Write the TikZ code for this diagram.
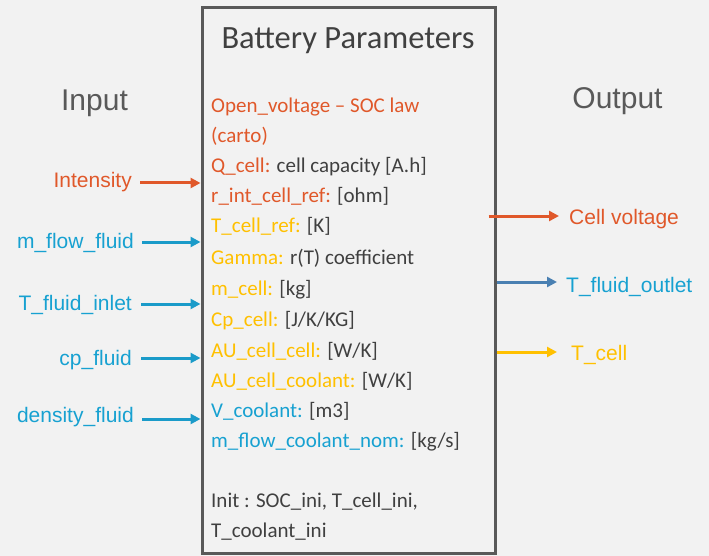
\documentclass[tikz,border=0pt]{standalone}
\usepackage{fontspec}
\setmainfont{Carlito}
\newfontfamily\arialf{Liberation Sans}
\usetikzlibrary{arrows.meta}
\definecolor{bg}{HTML}{F2F2F2}
\definecolor{boxgray}{HTML}{595959}
\definecolor{txtgray}{HTML}{404040}
\definecolor{orng}{HTML}{E0582A}
\definecolor{blu}{HTML}{17A1D1}
\definecolor{bluarr}{HTML}{1B9BC9}
\definecolor{steel}{HTML}{4A80B2}
\definecolor{yel}{HTML}{FFC000}
\tikzset{
  x=1pt,y=-1pt,
  body/.style={anchor=base west,inner sep=0pt,font=\fontsize{21}{24}\selectfont,text=txtgray},
  lbl/.style={inner sep=0pt,font=\arialf\fontsize{21}{24}\selectfont},
  hdr/.style={inner sep=0pt,font=\arialf\fontsize{30}{34}\selectfont,text=boxgray},
  arr/.style={line width=3pt,-{Triangle[length=10pt,width=10pt]}},
}
\newcommand{\og}[1]{\textcolor{orng}{#1}}
\newcommand{\yl}[1]{\textcolor{yel}{#1}}
\newcommand{\bl}[1]{\textcolor{blu}{#1}}
\begin{document}
\begin{tikzpicture}
\useasboundingbox (0,0) rectangle (709,556);
\fill[bg] (0,0) rectangle (709,556);
\node[draw=boxgray,line width=3pt,minimum width=293pt,minimum height=545pt,inner sep=0pt] (box) at (348.5,280.5) {};
\node[anchor=base,inner sep=0pt,font=\fontsize{32.5}{36}\selectfont,text=txtgray] (title) at (348,49) {Battery Parameters};
\node[body] (p1) at (211,113) {\og{Open\_voltage – SOC law}};
\node[body] (p2) at (211,143) {\og{(carto)}};
\node[body] (p3) at (211,173) {\og{Q\_cell:} cell capacity [A.h]};
\node[body] (p4) at (211,203) {\og{r\_int\_cell\_ref:} [ohm]};
\node[body] (p5) at (211,233) {\yl{T\_cell\_ref:} [K]};
\node[body] (p6) at (211,264) {\yl{Gamma:} r(T) coefficient};
\node[body] (p7) at (211,295) {\yl{m\_cell:} [kg]};
\node[body] (p8) at (211,326) {\yl{Cp\_cell:} [J/K/KG]};
\node[body] (p9) at (211,357) {\yl{AU\_cell\_cell:} [W/K]};
\node[body] (p10) at (211,387) {\yl{AU\_cell\_coolant:} [W/K]};
\node[body] (p11) at (211,417) {\bl{V\_coolant:} [m3]};
\node[body] (p12) at (211,447) {\bl{m\_flow\_coolant\_nom:} [kg/s]};
\node[body] (p13) at (211,507) {Init : SOC\_ini, T\_cell\_ini,};
\node[body] (p14) at (211,537) {T\_coolant\_ini};
% headers
\node[hdr,anchor=base] (inp) at (94.5,111) {Input};
\node[hdr,anchor=base] (outp) at (617.5,109) {Output};
% inputs
\node[lbl,anchor=base east,text=orng] (i1) at (132,188) {Intensity};
\node[lbl,anchor=base east,text=blu] (i2) at (134,248) {m\_flow\_fluid};
\node[lbl,anchor=base east,text=blu] (i3) at (132,310) {T\_fluid\_inlet};
\node[lbl,anchor=base east,text=blu] (i4) at (132,365) {cp\_fluid};
\node[lbl,anchor=base east,text=blu] (i5) at (134,422) {density\_fluid};
\coordinate (a1) at (140,183);
\coordinate (a2) at (142,242);
\coordinate (a3) at (141,304);
\coordinate (a4) at (141,358);
\coordinate (a5) at (142,419);
\draw[arr,orng] (a1) -- (a1 -| box.west);
\draw[arr,bluarr] (a2) -- (a2 -| box.west);
\draw[arr,bluarr] (a3) -- (a3 -| box.west);
\draw[arr,bluarr] (a4) -- (a4 -| box.west);
\draw[arr,bluarr] (a5) -- (a5 -| box.west);
% outputs
\node[lbl,anchor=base west,text=orng] (o1) at (569,225) {Cell voltage};
\node[lbl,anchor=base west,text=blu] (o2) at (566,292) {T\_fluid\_outlet};
\node[lbl,anchor=base west,text=yel] (o3) at (571,360) {T\_cell};
\coordinate (b1) at (559,216);
\coordinate (b2) at (557,282);
\coordinate (b3) at (557,352);
\draw[arr,orng] ([xshift=-8pt]b1 -| box.east) -- (b1);
\draw[arr,steel] (b2 -| box.east) -- (b2);
\draw[arr,yel] (b3 -| box.east) -- (b3);
\end{tikzpicture}
\end{document}
